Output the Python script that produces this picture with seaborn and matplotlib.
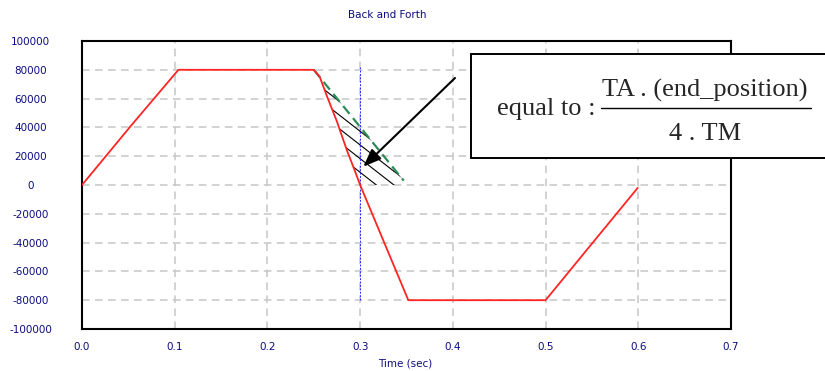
import numpy as np
import pandas as pd
import matplotlib
matplotlib.use("Agg")
import matplotlib.pyplot as plt
from matplotlib.patches import Rectangle
from matplotlib.lines import Line2D
import seaborn as sns

# Position profile of the back-and-forth move (time in s, position in counts)
time_s = [0.0, 0.052, 0.104, 0.25, 0.2565, 0.264, 0.275, 0.2855, 0.2945, 0.3,
          0.3107, 0.3287, 0.343, 0.352, 0.5, 0.5228, 0.5444, 0.566, 0.58, 0.5994]
position = [0, 40500, 80000, 80000, 75000, 62000, 44000, 24500, 9500, 0,
            -16500, -44200, -66200, -80000, -80000, -62100, -45100, -28200, -17200, -2000]

# Ideal (un-lagged) deceleration ramp, drawn dashed
ideal_t = [0.25, 0.347]
ideal_pos = [80000, 3000]

# Vertical marker at t = 0.3 s
marker_t = 0.3
marker_range = [-80000, 82000]

# Arrow pointing into the hatched area
arrow_tail = (0.4023, 74300)
arrow_head = (0.3034, 12700)

x_ticks = [0.0, 0.1, 0.2, 0.3, 0.4, 0.5, 0.6, 0.7]
x_tick_labels = ["0.0", "0.1", "0.2", "0.3", "0.4", "0.5", "0.6", "0.7"]
y_ticks = [100000, 80000, 60000, 40000, 20000, 0, -20000, -40000, -60000, -80000, -100000]
y_tick_labels = ["100000", "80000", "60000", "40000", "20000", "0", "-20000",
                 "-40000", "-60000", "-80000", "-100000"]

title = "Back and Forth"
xlabel = "Time (sec)"
label_navy = "#0c0c80"

sns.set_theme(style="white")
plt.rcParams["font.family"] = ["DejaVu Sans"]

W, H = 825, 371
fig = plt.figure(figsize=(W / 100, H / 100), dpi=100)
fig.patch.set_facecolor("white")
ax = fig.add_axes([82 / W, 1 - 329 / H, 649 / W, 288 / H])
ax.set_facecolor("white")

df = pd.DataFrame({"t": time_s, "pos": position})
sns.lineplot(data=df, x="t", y="pos", color="#ff2424", lw=1.3, ax=ax,
             sort=False, estimator=None, zorder=4)

ideal_df = pd.DataFrame({"t": ideal_t, "pos": ideal_pos})
sns.lineplot(data=ideal_df, x="t", y="pos", color="#2e8b57", lw=1.6, ax=ax,
             sort=False, estimator=None, zorder=3,
             linestyle=(0, (4.5, 2.5)))

# Region between the actual descent and the ideal ramp (used as hatch clip)
t_arr = np.array(time_s)
p_arr = np.array(position)
desc = (t_arr >= 0.25) & (t_arr <= 0.352)
y_fill = np.linspace(0, 80000, 400)
red_t_at = np.interp(y_fill, p_arr[desc][::-1], t_arr[desc][::-1])
green_t_at = np.interp(y_fill, ideal_pos[::-1], ideal_t[::-1])
region = ax.fill_betweenx(y_fill, red_t_at, green_t_at, facecolor="none",
                          edgecolor="none", lw=0, zorder=2)

# Diagonal hatch strokes clipped to that region
hatch_slope = 502000.0      # counts per second, falling left to right
hatch_step = 9500.0         # vertical spacing between strokes
hatch_t = np.array([0.22, 0.40])
for c in 197400 + hatch_step * np.arange(-20, 20):
    ln, = ax.plot(hatch_t, c - hatch_slope * hatch_t, color="black", lw=0.8, zorder=2)
    ln.set_clip_path(region.get_paths()[0], ax.transData)

ax.vlines(marker_t, marker_range[0], marker_range[1], colors="#2a2aff",
          lw=0.7, linestyles=(0, (2, 1.5)), zorder=3)

ax.annotate("", xy=arrow_head, xytext=arrow_tail,
            arrowprops=dict(arrowstyle="-|>,head_length=0.9,head_width=0.35",
                            color="black", lw=1.5, shrinkA=0, shrinkB=0),
            zorder=6)

ax.set_xlim(0, 0.7)
ax.set_ylim(-100000, 100000)
ax.set_xticks(x_ticks)
ax.set_xticklabels(x_tick_labels)
ax.set_yticks(y_ticks)
ax.set_yticklabels(y_tick_labels)
ax.tick_params(axis="both", length=0, labelsize=7.5, labelcolor=label_navy)
ax.tick_params(axis="x", pad=9.5)
ax.tick_params(axis="y", pad=37)
for lab in ax.get_yticklabels():
    lab.set_horizontalalignment("center")

ax.grid(True, color="#c6c6c6", linestyle=(0, (5, 3.5)), lw=1.1)
ax.set_axisbelow(True)
for sp in ax.spines.values():
    sp.set_visible(True)
    sp.set_color("black")
    sp.set_linewidth(1.5)

ax.set_xlabel(xlabel, fontsize=7.5, color=label_navy, va="center")
ax.xaxis.set_label_coords((405 - 82) / 649, (329 - 363) / 288)
ax.set_ylabel("")

fig.text(387 / W, 1 - 15 / H, title, fontsize=7.5, color=label_navy,
         ha="center", va="center")

# Formula box
box = Rectangle((471 / W, 1 - 158.3 / H), (840 - 471) / W, 104 / H,
                transform=fig.transFigure, facecolor="white", edgecolor="black",
                lw=1.4, zorder=5, clip_on=False)
fig.add_artist(box)

serif = ["Liberation Serif", "DejaVu Serif"]
fig.text(496.7 / W, 1 - 115 / H, "equal to :", fontsize=19, family=serif,
         ha="left", va="baseline", zorder=6)
fig.text(705 / W, 1 - 96.7 / H, "TA . (end_position)", fontsize=19, family=serif,
         ha="center", va="baseline", zorder=6)
fig.text(705 / W, 1 - 140 / H, "4 . TM", fontsize=19, family=serif,
         ha="center", va="baseline", zorder=6)
fig.add_artist(Line2D([601 / W, 810.7 / W], [1 - 107.7 / H, 1 - 107.7 / H],
                      transform=fig.transFigure, color="black", lw=1.0, zorder=6))

fig.savefig("out.png", dpi=100, facecolor="white")
